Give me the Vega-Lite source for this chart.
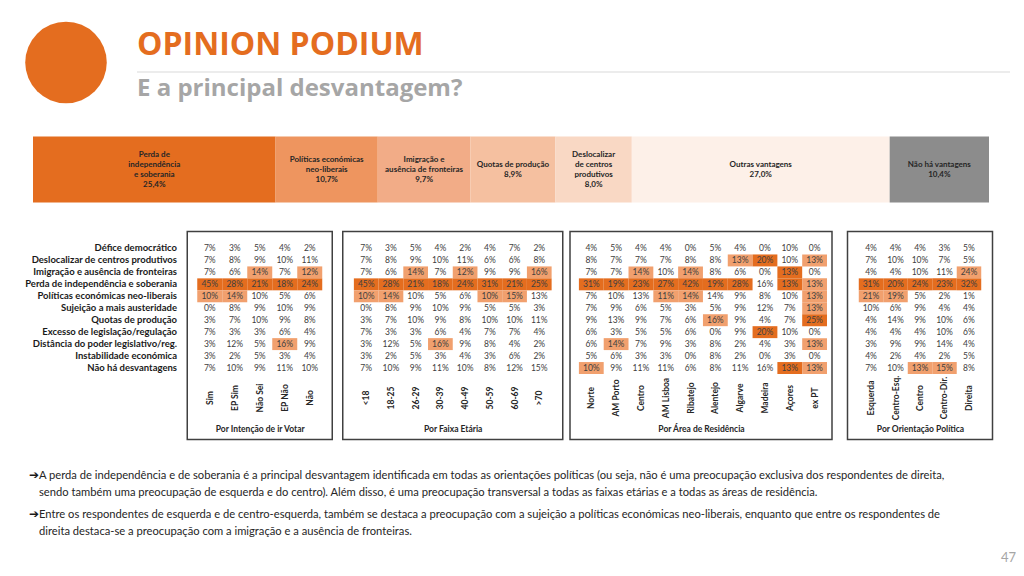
{
  "$schema": "https://vega.github.io/schema/vega-lite/v6.json",
  "background": "white",
  "padding": {"left": 20, "top": 16.5, "right": 0, "bottom": 0},
  "spacing": 28,
  "resolve": {"scale": {"x": "independent", "y": "independent", "color": "independent"}},
  "config": {
    "view": {"stroke": "#404040", "strokeWidth": 1.5},
    "font": "Lato"
  },
  "datasets": {
    "topo": [
      {"nome": "Perda de\nindependência\ne soberania", "pct": 25.4},
      {"nome": "Políticas económicas\nneo-liberais", "pct": 10.7},
      {"nome": "Imigração e\nausência de fronteiras", "pct": 9.7},
      {"nome": "Quotas de produção", "pct": 8.9},
      {"nome": "Deslocalizar\nde centros\nprodutivos", "pct": 8.0},
      {"nome": "Outras vantagens", "pct": 27.0},
      {"nome": "Não há vantagens", "pct": 10.4}
    ],
    "votar": [
      {"r": "Défice democrático", "Sim": 7, "EP Sim": 3, "Não Sei": 5, "EP Não": 4, "Não": 2},
      {"r": "Deslocalizar de centros produtivos", "Sim": 7, "EP Sim": 8, "Não Sei": 9, "EP Não": 10, "Não": 11},
      {"r": "Imigração e ausência de fronteiras", "Sim": 7, "EP Sim": 6, "Não Sei": 14, "EP Não": 7, "Não": 12},
      {"r": "Perda de independência e soberania", "Sim": 45, "EP Sim": 28, "Não Sei": 21, "EP Não": 18, "Não": 24},
      {"r": "Políticas económicas neo-liberais", "Sim": 10, "EP Sim": 14, "Não Sei": 10, "EP Não": 5, "Não": 6},
      {"r": "Sujeição a mais austeridade", "Sim": 0, "EP Sim": 8, "Não Sei": 9, "EP Não": 10, "Não": 9},
      {"r": "Quotas de produção", "Sim": 3, "EP Sim": 7, "Não Sei": 10, "EP Não": 9, "Não": 8},
      {"r": "Excesso de legislação/regulação", "Sim": 7, "EP Sim": 3, "Não Sei": 3, "EP Não": 6, "Não": 4},
      {"r": "Distância do poder legislativo/reg.", "Sim": 3, "EP Sim": 12, "Não Sei": 5, "EP Não": 16, "Não": 9},
      {"r": "Instabilidade económica", "Sim": 3, "EP Sim": 2, "Não Sei": 5, "EP Não": 3, "Não": 4},
      {"r": "Não há desvantagens", "Sim": 7, "EP Sim": 10, "Não Sei": 9, "EP Não": 11, "Não": 10}
    ],
    "idade": [
      {"r": "Défice democrático", "<18": 7, "18-25": 3, "26-29": 5, "30-39": 4, "40-49": 2, "50-59": 4, "60-69": 7, ">70": 2},
      {"r": "Deslocalizar de centros produtivos", "<18": 7, "18-25": 8, "26-29": 9, "30-39": 10, "40-49": 11, "50-59": 6, "60-69": 6, ">70": 8},
      {"r": "Imigração e ausência de fronteiras", "<18": 7, "18-25": 6, "26-29": 14, "30-39": 7, "40-49": 12, "50-59": 9, "60-69": 9, ">70": 16},
      {"r": "Perda de independência e soberania", "<18": 45, "18-25": 28, "26-29": 21, "30-39": 18, "40-49": 24, "50-59": 31, "60-69": 21, ">70": 25},
      {"r": "Políticas económicas neo-liberais", "<18": 10, "18-25": 14, "26-29": 10, "30-39": 5, "40-49": 6, "50-59": 10.4, "60-69": 15, ">70": 13},
      {"r": "Sujeição a mais austeridade", "<18": 0, "18-25": 8, "26-29": 9, "30-39": 10, "40-49": 9, "50-59": 5, "60-69": 5, ">70": 3},
      {"r": "Quotas de produção", "<18": 3, "18-25": 7, "26-29": 10, "30-39": 9, "40-49": 8, "50-59": 10, "60-69": 10, ">70": 11},
      {"r": "Excesso de legislação/regulação", "<18": 7, "18-25": 3, "26-29": 3, "30-39": 6, "40-49": 4, "50-59": 7, "60-69": 7, ">70": 4},
      {"r": "Distância do poder legislativo/reg.", "<18": 3, "18-25": 12, "26-29": 5, "30-39": 16, "40-49": 9, "50-59": 8, "60-69": 4, ">70": 2},
      {"r": "Instabilidade económica", "<18": 3, "18-25": 2, "26-29": 5, "30-39": 3, "40-49": 4, "50-59": 3, "60-69": 6, ">70": 2},
      {"r": "Não há desvantagens", "<18": 7, "18-25": 10, "26-29": 9, "30-39": 11, "40-49": 10, "50-59": 8, "60-69": 12, ">70": 15}
    ],
    "area": [
      {"r": "Défice democrático", "Norte": 4, "AM Porto": 5, "Centro": 4, "AM Lisboa": 4, "Ribatejo": 0, "Alentejo": 5, "Algarve": 4, "Madeira": 0, "Açores": 10, "ex PT": 0},
      {"r": "Deslocalizar de centros produtivos", "Norte": 8, "AM Porto": 7, "Centro": 7, "AM Lisboa": 7, "Ribatejo": 8, "Alentejo": 8, "Algarve": 13, "Madeira": 20, "Açores": 10, "ex PT": 13},
      {"r": "Imigração e ausência de fronteiras", "Norte": 7, "AM Porto": 7, "Centro": 14, "AM Lisboa": 10, "Ribatejo": 14, "Alentejo": 8, "Algarve": 6, "Madeira": 0, "Açores": 13, "ex PT": 0},
      {"r": "Perda de independência e soberania", "Norte": 31, "AM Porto": 19, "Centro": 23, "AM Lisboa": 27, "Ribatejo": 42, "Alentejo": 19, "Algarve": 28, "Madeira": 16, "Açores": 13, "ex PT": 13},
      {"r": "Políticas económicas neo-liberais", "Norte": 7, "AM Porto": 10, "Centro": 13, "AM Lisboa": 11.4, "Ribatejo": 14, "Alentejo": 14, "Algarve": 9, "Madeira": 8, "Açores": 10, "ex PT": 13},
      {"r": "Sujeição a mais austeridade", "Norte": 7, "AM Porto": 9, "Centro": 6, "AM Lisboa": 5, "Ribatejo": 3, "Alentejo": 5, "Algarve": 9, "Madeira": 12, "Açores": 7, "ex PT": 13},
      {"r": "Quotas de produção", "Norte": 9, "AM Porto": 13, "Centro": 9, "AM Lisboa": 7, "Ribatejo": 6, "Alentejo": 16, "Algarve": 9, "Madeira": 4, "Açores": 7, "ex PT": 25},
      {"r": "Excesso de legislação/regulação", "Norte": 6, "AM Porto": 3, "Centro": 5, "AM Lisboa": 5, "Ribatejo": 6, "Alentejo": 0, "Algarve": 9, "Madeira": 20, "Açores": 10, "ex PT": 0},
      {"r": "Distância do poder legislativo/reg.", "Norte": 6, "AM Porto": 14, "Centro": 7, "AM Lisboa": 9, "Ribatejo": 3, "Alentejo": 8, "Algarve": 2, "Madeira": 4, "Açores": 3, "ex PT": 13},
      {"r": "Instabilidade económica", "Norte": 5, "AM Porto": 6, "Centro": 3, "AM Lisboa": 3, "Ribatejo": 0, "Alentejo": 8, "Algarve": 2, "Madeira": 0, "Açores": 3, "ex PT": 0},
      {"r": "Não há desvantagens", "Norte": 10, "AM Porto": 9, "Centro": 11, "AM Lisboa": 11, "Ribatejo": 6, "Alentejo": 8, "Algarve": 11, "Madeira": 16, "Açores": 13, "ex PT": 13}
    ],
    "orient": [
      {"r": "Défice democrático", "Esquerda": 4, "Centro-Esq.": 4, "Centro": 4, "Centro-Dir.": 3, "Direita": 5},
      {"r": "Deslocalizar de centros produtivos", "Esquerda": 7, "Centro-Esq.": 10, "Centro": 10, "Centro-Dir.": 7, "Direita": 5},
      {"r": "Imigração e ausência de fronteiras", "Esquerda": 4, "Centro-Esq.": 4, "Centro": 10, "Centro-Dir.": 11, "Direita": 24},
      {"r": "Perda de independência e soberania", "Esquerda": 31, "Centro-Esq.": 20, "Centro": 24, "Centro-Dir.": 23, "Direita": 32},
      {"r": "Políticas económicas neo-liberais", "Esquerda": 21, "Centro-Esq.": 19, "Centro": 5, "Centro-Dir.": 2, "Direita": 1},
      {"r": "Sujeição a mais austeridade", "Esquerda": 10, "Centro-Esq.": 6, "Centro": 9, "Centro-Dir.": 4, "Direita": 4},
      {"r": "Quotas de produção", "Esquerda": 4, "Centro-Esq.": 14, "Centro": 9, "Centro-Dir.": 10, "Direita": 6},
      {"r": "Excesso de legislação/regulação", "Esquerda": 4, "Centro-Esq.": 4, "Centro": 4, "Centro-Dir.": 10, "Direita": 6},
      {"r": "Distância do poder legislativo/reg.", "Esquerda": 3, "Centro-Esq.": 9, "Centro": 9, "Centro-Dir.": 14, "Direita": 4},
      {"r": "Instabilidade económica", "Esquerda": 4, "Centro-Esq.": 2, "Centro": 4, "Centro-Dir.": 2, "Direita": 5},
      {"r": "Não há desvantagens", "Esquerda": 7, "Centro-Esq.": 10, "Centro": 13, "Centro-Dir.": 15, "Direita": 8}
    ],
    "cabecalho": [
      {"titulo": "OPINION PODIUM", "subtitulo": "E a principal desvantagem?"}
    ],
    "notas": [
      {"par": 1, "t": "A perda de independência e de soberania é a principal desvantagem identificada em todas as orientações políticas (ou seja, não é uma preocupação exclusiva dos respondentes de direita,\nsendo também uma preocupação de esquerda e do centro). Além disso, é uma preocupação transversal a todas as faixas etárias e a todas as áreas de residência."},
      {"par": 2, "t": "Entre os respondentes de esquerda e de centro-esquerda, também se destaca a preocupação com a sujeição a políticas económicas neo-liberais, enquanto que entre os respondentes de\ndireita destaca-se a preocupação com a imigração e a ausência de fronteiras."}
    ]
  },
  "vconcat": [
    {
      "width": 990,
      "height": 92,
      "view": {"stroke": null},
      "data": {"name": "cabecalho"},
      "layer": [
        {
          "mark": {"type": "circle", "color": "#E46D1F", "opacity": 1, "size": 6650},
          "encoding": {"x": {"value": 46}, "y": {"value": 46}}
        },
        {
          "mark": {"type": "rule", "color": "#D9D9D9", "strokeWidth": 1},
          "encoding": {"x": {"value": 117}, "x2": {"value": 990}, "y": {"value": 55.5}}
        },
        {
          "mark": {"type": "text", "align": "left", "baseline": "alphabetic", "font": "Open Sans", "fontSize": 32, "fontWeight": "bold", "color": "#E46D1F"},
          "encoding": {"x": {"value": 117}, "y": {"value": 38.5}, "text": {"field": "titulo"}}
        },
        {
          "mark": {"type": "text", "align": "left", "baseline": "alphabetic", "font": "Open Sans", "fontSize": 24, "fontWeight": "bold", "color": "#A6A6A6"},
          "encoding": {"x": {"value": 117}, "y": {"value": 79.5}, "text": {"field": "subtitulo"}}
        }
      ]
    },
    {
      "width": 970,
      "height": 66,
      "view": {"stroke": null},
      "data": {"name": "topo"},
      "transform": [
        {"window": [{"op": "row_number", "as": "k"}]},
        {"stack": "pct", "groupby": [], "sort": [{"field": "k", "order": "ascending"}], "as": ["x0", "x1"]},
        {"calculate": "(datum.x0 + datum.x1) / 2", "as": "xm"},
        {"calculate": "datum.nome + '\\n' + replace(format(datum.pct, '.1f'), '.', ',') + '%'", "as": "lbl"}
      ],
      "layer": [
        {
          "mark": {"type": "rect"},
          "encoding": {
            "x": {"field": "x0", "type": "quantitative", "scale": {"nice": false, "zero": true, "range": [13, 969]}, "axis": null},
            "x2": {"field": "x1"},
            "color": {
              "field": "nome", "type": "nominal", "legend": null,
              "scale": {
                "domain": ["Perda de\nindependência\ne soberania", "Políticas económicas\nneo-liberais", "Imigração e\nausência de fronteiras", "Quotas de produção", "Deslocalizar\nde centros\nprodutivos", "Outras vantagens", "Não há vantagens"],
                "range": ["#E46D1F", "#EE955F", "#F2AC87", "#F5C0A0", "#F9D8C4", "#FDF0E8", "#8C8C8C"]
              }
            }
          }
        },
        {
          "mark": {"type": "text", "lineBreak": "\n", "lineHeight": 10, "font": "Lato", "fontSize": 8, "fontWeight": "bold", "color": "#262626", "align": "center", "baseline": "middle", "dy": {"expr": "-(length(split(datum.lbl, '\\n')) - 1) * 5"}},
          "encoding": {
            "x": {"field": "xm", "type": "quantitative", "axis": null},
            "text": {"field": "lbl"}
          }
        }
      ]
    },
    {
      "spacing": 5,
      "resolve": {"scale": {"x": "independent", "y": "independent", "color": "independent"}},
      "hconcat": [
        {
          "spacing": 9.25,
          "resolve": {"scale": {"x": "independent", "y": "independent", "color": "independent"}},
          "hconcat": [
            {
              "width": 157,
              "height": 208,
              "view": {"stroke": null},
              "data": {"name": "votar"},
              "mark": {"type": "text", "align": "right", "baseline": "middle", "font": "Lato", "fontSize": 9.5, "fontWeight": "bold", "color": "#1A1A1A"},
              "encoding": {
                "x": {"value": "width"},
                "y": {
                  "field": "r", "type": "nominal",
                  "sort": ["Défice democrático", "Deslocalizar de centros produtivos", "Imigração e ausência de fronteiras", "Perda de independência e soberania", "Políticas económicas neo-liberais", "Sujeição a mais austeridade", "Quotas de produção", "Excesso de legislação/regulação", "Distância do poder legislativo/reg.", "Instabilidade económica", "Não há desvantagens"],
                  "scale": {"range": [11, 142.5], "paddingInner": 0, "paddingOuter": 0},
                  "axis": null
                },
                "text": {"field": "r"}
              }
            },
            {
              "spacing": 8.5,
              "resolve": {"scale": {"x": "independent", "y": "independent", "color": "independent"}},
              "hconcat": [
                {
                  "width": 145,
                  "height": 208,
                  "data": {"name": "votar"},
                  "transform": [
                    {"fold": ["Sim", "EP Sim", "Não Sei", "EP Não", "Não"], "as": ["c", "v"]},
                    {"window": [{"op": "rank", "as": "rk"}], "groupby": ["c"], "sort": [{"field": "v", "order": "descending"}]},
                    {"calculate": "format(datum.v, '.0f') + '%'", "as": "lbl"}
                  ],
                  "encoding": {
                    "x": {
                      "field": "c", "type": "nominal",
                      "sort": ["Sim", "EP Sim", "Não Sei", "EP Não", "Não"],
                      "scale": {"paddingInner": 0, "paddingOuter": 0.4},
                      "axis": {"title": "Por Intenção de ir Votar", "orient": "bottom", "offset": -60, "ticks": false, "tickSize": 0, "domain": false, "labelAngle": -90, "labelAlign": "center", "labelBaseline": "middle", "labelPadding": 18, "labelFont": "Lato", "labelFontSize": 8.5, "labelFontWeight": "bold", "labelColor": "#262626", "labelOverlap": false, "titleFont": "Lato", "titleFontSize": 8.5, "titleFontWeight": "bold", "titleColor": "#262626", "titleY": 49, "titleBaseline": "middle"}
                    },
                    "y": {
                      "field": "r", "type": "nominal",
                      "sort": ["Défice democrático", "Deslocalizar de centros produtivos", "Imigração e ausência de fronteiras", "Perda de independência e soberania", "Políticas económicas neo-liberais", "Sujeição a mais austeridade", "Quotas de produção", "Excesso de legislação/regulação", "Distância do poder legislativo/reg.", "Instabilidade económica", "Não há desvantagens"],
                      "scale": {"range": [11, 142.5], "paddingInner": 0, "paddingOuter": 0},
                      "axis": null
                    }
                  },
                  "layer": [
                    {
                      "transform": [{"filter": "datum.rk <= 2"}],
                      "mark": {"type": "rect"},
                      "encoding": {"color": {"field": "rk", "type": "ordinal", "legend": null, "scale": {"domain": [1, 2], "range": ["#E46D1F", "#F1A06E"]}}}
                    },
                    {
                      "mark": {"type": "text", "font": "Lato", "fontSize": 8.5, "color": "#404040"},
                      "encoding": {"text": {"field": "lbl"}}
                    }
                  ]
                },
                {
                  "width": 220,
                  "height": 208,
                  "data": {"name": "idade"},
                  "transform": [
                    {"fold": ["<18", "18-25", "26-29", "30-39", "40-49", "50-59", "60-69", ">70"], "as": ["c", "v"]},
                    {"window": [{"op": "rank", "as": "rk"}], "groupby": ["c"], "sort": [{"field": "v", "order": "descending"}]},
                    {"calculate": "format(datum.v, '.0f') + '%'", "as": "lbl"}
                  ],
                  "encoding": {
                    "x": {
                      "field": "c", "type": "nominal",
                      "sort": ["<18", "18-25", "26-29", "30-39", "40-49", "50-59", "60-69", ">70"],
                      "scale": {"paddingInner": 0, "paddingOuter": 0.45},
                      "axis": {"title": "Por Faixa Etária", "orient": "bottom", "offset": -60, "ticks": false, "tickSize": 0, "domain": false, "labelAngle": -90, "labelAlign": "center", "labelBaseline": "middle", "labelPadding": 18, "labelFont": "Lato", "labelFontSize": 8.5, "labelFontWeight": "bold", "labelColor": "#262626", "labelOverlap": false, "titleFont": "Lato", "titleFontSize": 8.5, "titleFontWeight": "bold", "titleColor": "#262626", "titleY": 49, "titleBaseline": "middle"}
                    },
                    "y": {
                      "field": "r", "type": "nominal",
                      "sort": ["Défice democrático", "Deslocalizar de centros produtivos", "Imigração e ausência de fronteiras", "Perda de independência e soberania", "Políticas económicas neo-liberais", "Sujeição a mais austeridade", "Quotas de produção", "Excesso de legislação/regulação", "Distância do poder legislativo/reg.", "Instabilidade económica", "Não há desvantagens"],
                      "scale": {"range": [11, 142.5], "paddingInner": 0, "paddingOuter": 0},
                      "axis": null
                    }
                  },
                  "layer": [
                    {
                      "transform": [{"filter": "datum.rk <= 2"}],
                      "mark": {"type": "rect"},
                      "encoding": {"color": {"field": "rk", "type": "ordinal", "legend": null, "scale": {"domain": [1, 2], "range": ["#E46D1F", "#F1A06E"]}}}
                    },
                    {
                      "mark": {"type": "text", "font": "Lato", "fontSize": 8.5, "color": "#404040"},
                      "encoding": {"text": {"field": "lbl"}}
                    }
                  ]
                }
              ]
            }
          ]
        },
        {
          "spacing": 13.5,
          "resolve": {"scale": {"x": "independent", "y": "independent", "color": "independent"}},
          "hconcat": [
            {
              "width": 262,
              "height": 208,
              "data": {"name": "area"},
              "transform": [
                {"fold": ["Norte", "AM Porto", "Centro", "AM Lisboa", "Ribatejo", "Alentejo", "Algarve", "Madeira", "Açores", "ex PT"], "as": ["c", "v"]},
                {"window": [{"op": "rank", "as": "rk"}], "groupby": ["c"], "sort": [{"field": "v", "order": "descending"}]},
                {"calculate": "format(datum.v, '.0f') + '%'", "as": "lbl"}
              ],
              "encoding": {
                "x": {
                  "field": "c", "type": "nominal",
                  "sort": ["Norte", "AM Porto", "Centro", "AM Lisboa", "Ribatejo", "Alentejo", "Algarve", "Madeira", "Açores", "ex PT"],
                  "scale": {"paddingInner": 0, "paddingOuter": 0.28, "align": 0.64},
                  "axis": {"title": "Por Área de Residência", "orient": "bottom", "offset": -60, "ticks": false, "tickSize": 0, "domain": false, "labelAngle": -90, "labelAlign": "center", "labelBaseline": "middle", "labelPadding": 18, "labelFont": "Lato", "labelFontSize": 8.5, "labelFontWeight": "bold", "labelColor": "#262626", "labelOverlap": false, "titleFont": "Lato", "titleFontSize": 8.5, "titleFontWeight": "bold", "titleColor": "#262626", "titleY": 49, "titleBaseline": "middle"}
                },
                "y": {
                  "field": "r", "type": "nominal",
                  "sort": ["Défice democrático", "Deslocalizar de centros produtivos", "Imigração e ausência de fronteiras", "Perda de independência e soberania", "Políticas económicas neo-liberais", "Sujeição a mais austeridade", "Quotas de produção", "Excesso de legislação/regulação", "Distância do poder legislativo/reg.", "Instabilidade económica", "Não há desvantagens"],
                  "scale": {"range": [11, 142.5], "paddingInner": 0, "paddingOuter": 0},
                  "axis": null
                }
              },
              "layer": [
                {
                  "transform": [{"filter": "datum.rk <= 2"}],
                  "mark": {"type": "rect"},
                  "encoding": {"color": {"field": "rk", "type": "ordinal", "legend": null, "scale": {"domain": [1, 2], "range": ["#E46D1F", "#F1A06E"]}}}
                },
                {
                  "mark": {"type": "text", "font": "Lato", "fontSize": 8.5, "color": "#404040"},
                  "encoding": {"text": {"field": "lbl"}}
                }
              ]
            },
            {
              "width": 145,
              "height": 208,
              "data": {"name": "orient"},
              "transform": [
                {"fold": ["Esquerda", "Centro-Esq\\.", "Centro", "Centro-Dir\\.", "Direita"], "as": ["c", "v"]},
                {"window": [{"op": "rank", "as": "rk"}], "groupby": ["c"], "sort": [{"field": "v", "order": "descending"}]},
                {"calculate": "format(datum.v, '.0f') + '%'", "as": "lbl"}
              ],
              "encoding": {
                "x": {
                  "field": "c", "type": "nominal",
                  "sort": ["Esquerda", "Centro-Esq.", "Centro", "Centro-Dir.", "Direita"],
                  "scale": {"paddingInner": 0, "paddingOuter": 0.46},
                  "axis": {"title": "Por Orientação Política", "orient": "bottom", "offset": -60, "ticks": false, "tickSize": 0, "domain": false, "labelAngle": -90, "labelAlign": "center", "labelBaseline": "middle", "labelPadding": 18, "labelFont": "Lato", "labelFontSize": 8.5, "labelFontWeight": "bold", "labelColor": "#262626", "labelOverlap": false, "titleFont": "Lato", "titleFontSize": 8.5, "titleFontWeight": "bold", "titleColor": "#262626", "titleY": 49, "titleBaseline": "middle"}
                },
                "y": {
                  "field": "r", "type": "nominal",
                  "sort": ["Défice democrático", "Deslocalizar de centros produtivos", "Imigração e ausência de fronteiras", "Perda de independência e soberania", "Políticas económicas neo-liberais", "Sujeição a mais austeridade", "Quotas de produção", "Excesso de legislação/regulação", "Distância do poder legislativo/reg.", "Instabilidade económica", "Não há desvantagens"],
                  "scale": {"range": [11, 142.5], "paddingInner": 0, "paddingOuter": 0},
                  "axis": null
                }
              },
              "layer": [
                {
                  "transform": [{"filter": "datum.rk <= 2"}],
                  "mark": {"type": "rect"},
                  "encoding": {"color": {"field": "rk", "type": "ordinal", "legend": null, "scale": {"domain": [1, 2], "range": ["#E46D1F", "#F1A06E"]}}}
                },
                {
                  "mark": {"type": "text", "font": "Lato", "fontSize": 8.5, "color": "#404040"},
                  "encoding": {"text": {"field": "lbl"}}
                }
              ]
            }
          ]
        }
      ]
    },
    {
      "width": 990,
      "height": 100,
      "view": {"stroke": null},
      "layer": [
        {
          "data": {"name": "notas"},
          "mark": {"type": "text", "text": "➔", "align": "left", "baseline": "top", "font": "DejaVu Sans", "fontSize": 12, "fontWeight": "bold", "color": "#1A1A1A"},
          "encoding": {
            "x": {"value": 9},
            "y": {"field": "par", "type": "ordinal", "scale": {"type": "point", "range": [0.5, 39], "padding": 0}, "axis": null}
          }
        },
        {
          "data": {"name": "notas"},
          "mark": {"type": "text", "align": "left", "baseline": "top", "lineBreak": "\n", "lineHeight": 17, "font": "Lato", "fontSize": 11.2, "color": "#262626"},
          "encoding": {
            "x": {"value": 19},
            "y": {"field": "par", "type": "ordinal", "scale": {"type": "point", "range": [0.5, 39], "padding": 0}, "axis": null},
            "text": {"field": "t"}
          }
        },
        {
          "data": {"values": [{"n": "47"}]},
          "mark": {"type": "text", "align": "right", "baseline": "middle", "font": "Lato", "fontSize": 13, "color": "#A6A6A6"},
          "encoding": {"x": {"value": 996}, "y": {"value": 88}, "text": {"field": "n"}}
        }
      ]
    }
  ]
}
